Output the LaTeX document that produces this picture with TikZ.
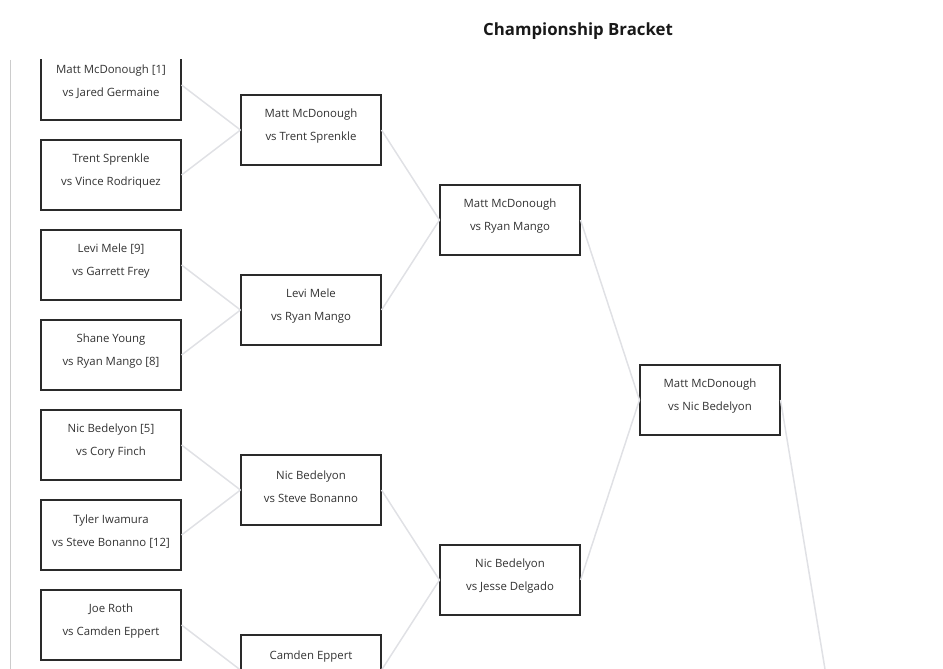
\documentclass[tikz,border=0pt]{standalone}
\usepackage{fontspec}
\setmainfont{Open Sans}
\usetikzlibrary{positioning}
\definecolor{linkgray}{HTML}{E0E1E5}
\definecolor{boxline}{HTML}{2A2A2A}
\definecolor{textgray}{HTML}{333333}
\tikzset{
    x=1pt, y=-1pt,
    match/.style={ % one bout of the bracket
        draw=boxline,
        line width=1.1pt,
        fill=white,
        minimum width=140pt,
        minimum height=70pt,
        inner sep=0pt
    },
    matchtext/.style={
        align=center,
        text=textgray,
        font=\fontsize{11.4}{23}\selectfont
    },
    link/.style={ % line from a bout to the next round
        draw=linkgray,
        line width=1.5pt
    }
}
% \bout{name}{x,y of centre}{first line}{second line}
\newcommand{\bout}[4]{%
    \node[match] (#1) at (#2) {};
    \node[matchtext] at ([yshift=3.5pt]#1.center) {#3\\#4};
}

\begin{document}
\begin{tikzpicture}
    \useasboundingbox (0,0) rectangle (943,669);
    \node[font=\bfseries\fontsize{16.8}{20}\selectfont, text=black!90] (title) at (578,31.5) {Championship Bracket};
    \draw[black!20, line width=0.8pt] (10,60) -- (10,669);
    \begin{scope}
        \clip (0,60) rectangle (943,669);
        % first round
        \bout{ra}{111,85}{Matt McDonough [1]}{vs Jared Germaine}
        \bout{rb}{111,175}{Trent Sprenkle}{vs Vince Rodriquez}
        \bout{rc}{111,265}{Levi Mele [9]}{vs Garrett Frey}
        \bout{rd}{111,355}{Shane Young}{vs Ryan Mango [8]}
        \bout{re}{111,445}{Nic Bedelyon [5]}{vs Cory Finch}
        \bout{rf}{111,535}{Tyler Iwamura}{vs Steve Bonanno [12]}
        \bout{rg}{111,625}{Joe Roth}{vs Camden Eppert}
        \coordinate (rh) at (181,715);
        % second round
        \bout{qa}{311,130}{Matt McDonough}{vs Trent Sprenkle}
        \bout{qb}{311,310}{Levi Mele}{vs Ryan Mango}
        \bout{qc}{311,490}{Nic Bedelyon}{vs Steve Bonanno}
        \bout{qd}{311,670}{Camden Eppert}{\mbox{}}
        % semifinals
        \bout{sa}{510,220}{Matt McDonough}{vs Ryan Mango}
        \bout{sb}{510,580}{Nic Bedelyon}{vs Jesse Delgado}
        % final
        \bout{fa}{710,400}{Matt McDonough}{vs Nic Bedelyon}
        \coordinate (champ) at (840,760);
        \path[link] (ra.east) -- (qa.west) (rb.east) -- (qa.west)
            (rc.east) -- (qb.west) (rd.east) -- (qb.west)
            (re.east) -- (qc.west) (rf.east) -- (qc.west)
            (rg.east) -- (qd.west) (rh) -- (qd.west)
            (qa.east) -- (sa.west) (qb.east) -- (sa.west)
            (qc.east) -- (sb.west) (qd.east) -- (sb.west)
            (sa.east) -- (fa.west) (sb.east) -- (fa.west)
            (fa.east) -- (champ);
    \end{scope}
\end{tikzpicture}
\end{document}
